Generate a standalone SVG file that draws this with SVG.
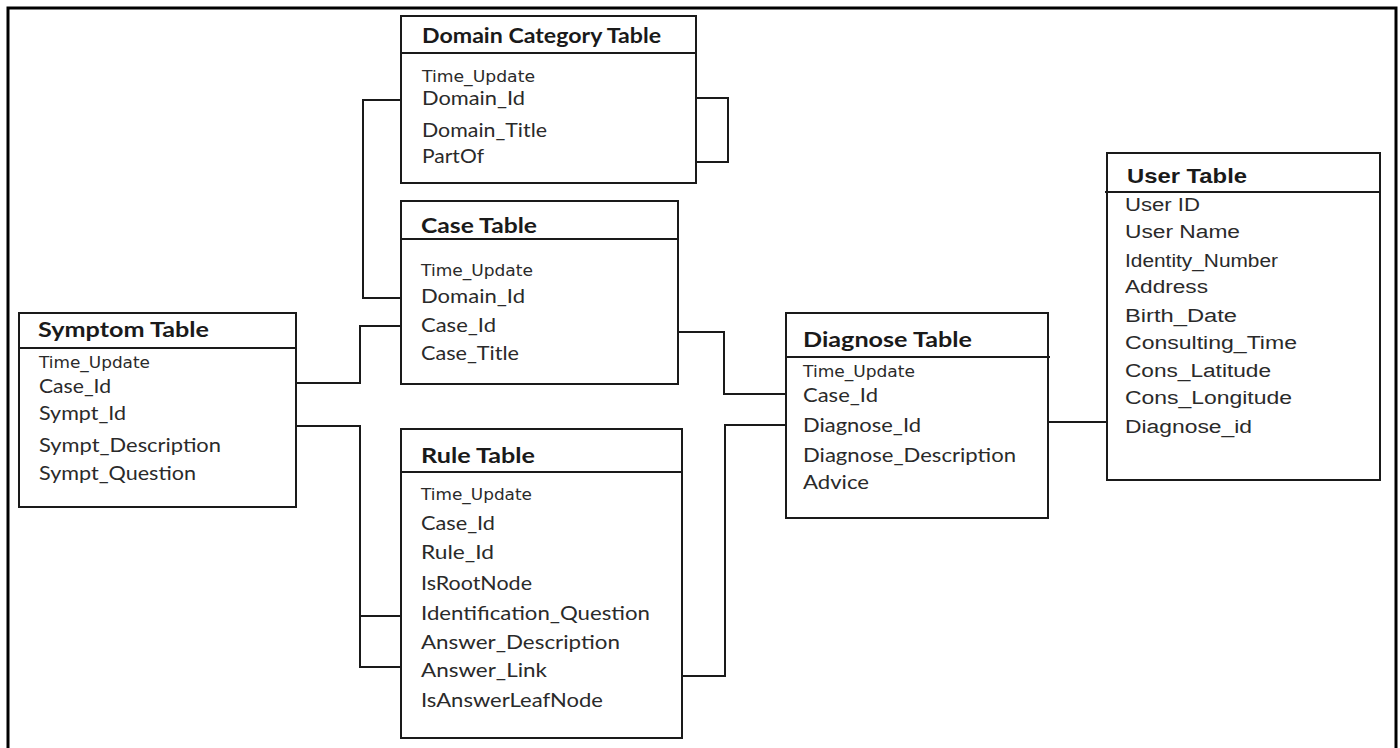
<svg xmlns="http://www.w3.org/2000/svg" width="1400" height="748" viewBox="0 0 1400 748">
<style>
.box{fill:#fff;stroke:#1a1a1a;stroke-width:2}
.hl{stroke:#1a1a1a;stroke-width:2}
.conn{fill:none;stroke:#1a1a1a;stroke-width:2}
.t{font-family:Lato,"Open Sans",sans-serif;font-weight:bold;font-size:21px;fill:#1a1a1a}
.f{font-family:Lato,"Open Sans",sans-serif;font-size:19px;fill:#2a2a2a}
.tu{font-family:"DejaVu Sans","Liberation Sans",sans-serif;font-size:15px;fill:#2a2a2a}
.ut{font-family:"Liberation Sans",Arial,sans-serif;font-weight:bold;font-size:21px;fill:#1a1a1a}
.uf{font-family:"Liberation Sans",Arial,sans-serif;font-size:18px;fill:#2a2a2a}
</style>
<rect width="1400" height="748" fill="#fff"/>
<path d="M8,748 V8 H1396 V748" fill="none" stroke="#000" stroke-width="3"/>

<g id="connectors">
<polyline class="conn" points="401,100 363,100 363,298 401,298"/>
<polyline class="conn" points="696,98 728,98 728,162 696,162"/>
<polyline class="conn" points="296,383 360,383 360,326 401,326"/>
<polyline class="conn" points="296,426 360,426 360,667 401,667"/>
<line class="conn" x1="360" y1="616" x2="401" y2="616"/>
<polyline class="conn" points="678,332 724,332 724,394 786,394"/>
<polyline class="conn" points="682,676 725,676 725,425 786,425"/>
<line class="conn" x1="1048" y1="422" x2="1107" y2="422"/>
</g>

<g id="domain-category-table">
<rect class="box" x="401" y="16" width="295" height="167"/>
<line class="hl" x1="401" y1="53" x2="696" y2="53"/>
<text class="t" x="422" y="43" textLength="239" lengthAdjust="spacingAndGlyphs">Domain Category Table</text>
<text class="tu" x="422" y="82" textLength="113" lengthAdjust="spacingAndGlyphs">Time_Update</text>
<text class="f" x="422" y="105" textLength="103" lengthAdjust="spacingAndGlyphs">Domain_Id</text>
<text class="f" x="422" y="137" textLength="125" lengthAdjust="spacingAndGlyphs">Domain_Title</text>
<text class="f" x="422" y="163" textLength="62" lengthAdjust="spacingAndGlyphs">PartOf</text>
</g>

<g id="case-table">
<rect class="box" x="401" y="201" width="277" height="183"/>
<line class="hl" x1="401" y1="239" x2="678" y2="239"/>
<text class="t" x="421" y="233" textLength="116" lengthAdjust="spacingAndGlyphs">Case Table</text>
<text class="tu" x="421" y="276" textLength="112" lengthAdjust="spacingAndGlyphs">Time_Update</text>
<text class="f" x="421" y="303" textLength="104" lengthAdjust="spacingAndGlyphs">Domain_Id</text>
<text class="f" x="421" y="332" textLength="75" lengthAdjust="spacingAndGlyphs">Case_Id</text>
<text class="f" x="421" y="360" textLength="98" lengthAdjust="spacingAndGlyphs">Case_Title</text>
</g>

<g id="symptom-table">
<rect class="box" x="19" y="313" width="277" height="194"/>
<line class="hl" x1="19" y1="348" x2="296" y2="348"/>
<text class="t" x="38" y="337" textLength="171" lengthAdjust="spacingAndGlyphs">Symptom Table</text>
<text class="tu" x="39" y="368" textLength="111" lengthAdjust="spacingAndGlyphs">Time_Update</text>
<text class="f" x="39" y="393" textLength="72" lengthAdjust="spacingAndGlyphs">Case_Id</text>
<text class="f" x="39" y="420" textLength="87" lengthAdjust="spacingAndGlyphs">Sympt_Id</text>
<text class="f" x="39" y="452" textLength="182" lengthAdjust="spacingAndGlyphs">Sympt_Description</text>
<text class="f" x="39" y="480" textLength="157" lengthAdjust="spacingAndGlyphs">Sympt_Question</text>
</g>

<g id="rule-table">
<rect class="box" x="401" y="429" width="281" height="309"/>
<line class="hl" x1="401" y1="472" x2="682" y2="472"/>
<text class="t" x="421" y="463" textLength="114" lengthAdjust="spacingAndGlyphs">Rule Table</text>
<text class="tu" x="421" y="500" textLength="111" lengthAdjust="spacingAndGlyphs">Time_Update</text>
<text class="f" x="421" y="530" textLength="74" lengthAdjust="spacingAndGlyphs">Case_Id</text>
<text class="f" x="421" y="559" textLength="73" lengthAdjust="spacingAndGlyphs">Rule_Id</text>
<text class="f" x="421" y="590" textLength="111" lengthAdjust="spacingAndGlyphs">IsRootNode</text>
<text class="f" x="421" y="620" textLength="229" lengthAdjust="spacingAndGlyphs">Identification_Question</text>
<text class="f" x="421" y="649" textLength="199" lengthAdjust="spacingAndGlyphs">Answer_Description</text>
<text class="f" x="421" y="677" textLength="126" lengthAdjust="spacingAndGlyphs">Answer_Link</text>
<text class="f" x="421" y="707" textLength="182" lengthAdjust="spacingAndGlyphs">IsAnswerLeafNode</text>
</g>

<g id="diagnose-table">
<rect class="box" x="786" y="313" width="262" height="205"/>
<line class="hl" x1="786" y1="357" x2="1050" y2="357"/>
<text class="t" x="803" y="347" textLength="169" lengthAdjust="spacingAndGlyphs">Diagnose Table</text>
<text class="tu" x="803" y="377" textLength="112" lengthAdjust="spacingAndGlyphs">Time_Update</text>
<text class="f" x="803" y="402" textLength="75" lengthAdjust="spacingAndGlyphs">Case_Id</text>
<text class="f" x="803" y="432" textLength="118" lengthAdjust="spacingAndGlyphs">Diagnose_Id</text>
<text class="f" x="803" y="462" textLength="213" lengthAdjust="spacingAndGlyphs">Diagnose_Description</text>
<text class="f" x="803" y="489" textLength="66" lengthAdjust="spacingAndGlyphs">Advice</text>
</g>

<g id="user-table">
<rect class="box" x="1107" y="153" width="273" height="327"/>
<line class="hl" x1="1105" y1="192" x2="1380" y2="192"/>
<text class="ut" x="1127" y="183" textLength="120" lengthAdjust="spacingAndGlyphs">User Table</text>
<text class="uf" x="1125" y="211" textLength="75" lengthAdjust="spacingAndGlyphs">User ID</text>
<text class="uf" x="1125" y="238" textLength="115" lengthAdjust="spacingAndGlyphs">User Name</text>
<text class="uf" x="1125" y="267" textLength="153" lengthAdjust="spacingAndGlyphs">Identity_Number</text>
<text class="uf" x="1125" y="293" textLength="83" lengthAdjust="spacingAndGlyphs">Address</text>
<text class="uf" x="1125" y="322" textLength="112" lengthAdjust="spacingAndGlyphs">Birth_Date</text>
<text class="uf" x="1125" y="349" textLength="172" lengthAdjust="spacingAndGlyphs">Consulting_Time</text>
<text class="uf" x="1125" y="377" textLength="146" lengthAdjust="spacingAndGlyphs">Cons_Latitude</text>
<text class="uf" x="1125" y="404" textLength="167" lengthAdjust="spacingAndGlyphs">Cons_Longitude</text>
<text class="uf" x="1125" y="433" textLength="127" lengthAdjust="spacingAndGlyphs">Diagnose_id</text>
</g>
</svg>
